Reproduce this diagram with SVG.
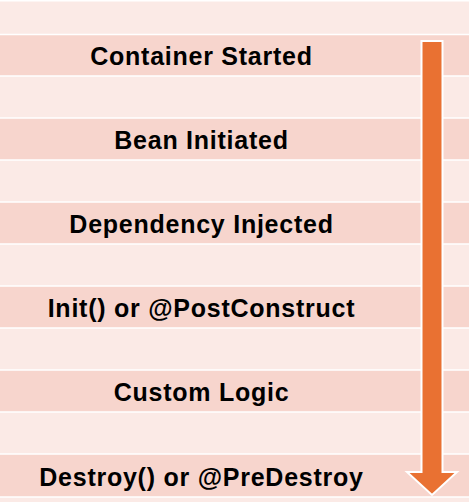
<svg xmlns="http://www.w3.org/2000/svg" width="469" height="502" viewBox="0 0 469 502">
<style>
.light{fill:#FBEAE6}
.dark{fill:#F7D5CD}
.sep{stroke:#FFFFFF;stroke-width:1.5}
.lbl{font-family:"Liberation Sans",Arial,sans-serif;font-weight:bold;font-size:25px;letter-spacing:0.75px;fill:#000000;text-anchor:middle}
.arrow{fill:#E97132;stroke:#FFFFFF;stroke-width:2;stroke-linejoin:miter}
</style>
<rect x="0" y="0" width="469" height="502" fill="#FFFFFF"/>
<g id="bands">
<rect class="light" x="0" y="1" width="469" height="33.5"/>
<rect class="dark" x="0" y="34.5" width="469" height="41.5"/>
<rect class="light" x="0" y="76" width="469" height="42"/>
<rect class="dark" x="0" y="118" width="469" height="42"/>
<rect class="light" x="0" y="160" width="469" height="42"/>
<rect class="dark" x="0" y="202" width="469" height="42"/>
<rect class="light" x="0" y="244" width="469" height="42"/>
<rect class="dark" x="0" y="286" width="469" height="42"/>
<rect class="light" x="0" y="328" width="469" height="42"/>
<rect class="dark" x="0" y="370" width="469" height="42"/>
<rect class="light" x="0" y="412" width="469" height="42"/>
<rect class="dark" x="0" y="454" width="469" height="43"/>
<rect class="light" x="0" y="497" width="469" height="5"/>
<g class="sep">
<line x1="0" y1="0.75" x2="469" y2="0.75"/>
<line x1="0" y1="34.5" x2="469" y2="34.5"/>
<line x1="0" y1="76" x2="469" y2="76"/>
<line x1="0" y1="118" x2="469" y2="118"/>
<line x1="0" y1="160" x2="469" y2="160"/>
<line x1="0" y1="202" x2="469" y2="202"/>
<line x1="0" y1="244" x2="469" y2="244"/>
<line x1="0" y1="286" x2="469" y2="286"/>
<line x1="0" y1="328" x2="469" y2="328"/>
<line x1="0" y1="370" x2="469" y2="370"/>
<line x1="0" y1="412" x2="469" y2="412"/>
<line x1="0" y1="454" x2="469" y2="454"/>
<line x1="0" y1="497" x2="469" y2="497"/>
</g>
</g>
<g id="node-container-started"><text class="lbl" x="201.5" y="65">Container Started</text></g>
<g id="node-bean-initiated"><text class="lbl" x="201.5" y="149">Bean Initiated</text></g>
<g id="node-dependency-injected"><text class="lbl" x="201.5" y="233">Dependency Injected</text></g>
<g id="node-init"><text class="lbl" x="201.5" y="317">Init() or @PostConstruct</text></g>
<g id="node-custom-logic"><text class="lbl" x="201.5" y="401">Custom Logic</text></g>
<g id="node-destroy"><text class="lbl" x="201.5" y="485.5">Destroy() or @PreDestroy</text></g>
<g id="connectors">
<polygon class="arrow" points="421.5,41 442.5,41 442.5,472 457,472 432,495 407,472 421.5,472"/>
</g>
</svg>
